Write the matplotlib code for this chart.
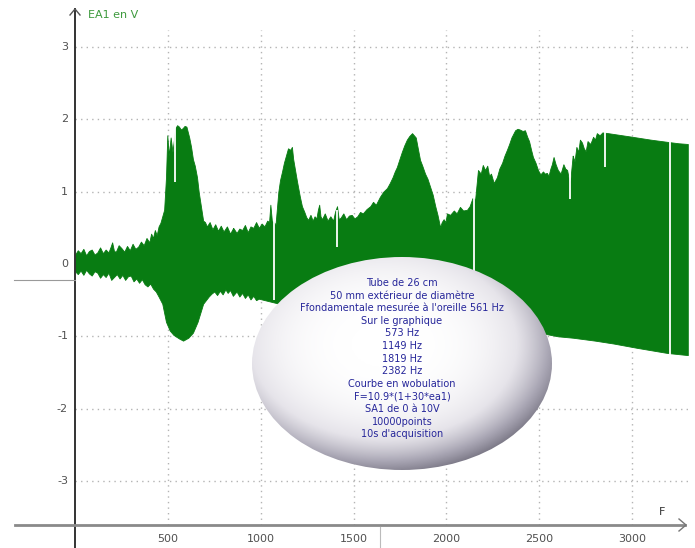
import numpy as np
import matplotlib
matplotlib.use("Agg")
import matplotlib.pyplot as plt
from matplotlib.patches import Ellipse
from matplotlib.colors import LinearSegmentedColormap

# --- measured signal envelope (F in Hz, EA1 in V) ---
upper_f = [0, 15, 30, 45, 60, 75, 90, 105, 120, 135, 150, 165, 180, 192, 200, 210,
           220, 235, 250, 265, 280, 295, 310, 325, 340, 355, 370, 385, 400, 410,
           420, 430, 440, 450, 460, 470, 480, 490, 497, 505, 515, 525, 540, 550,
           560, 570, 580, 590, 600, 615, 625, 635, 645, 657, 666, 675, 690, 700,
           710, 725, 740, 755, 770, 785, 800, 818, 835, 852, 870, 885, 900, 915,
           930, 945, 960, 975, 990, 1005, 1020, 1035, 1045, 1052, 1060, 1080, 1095,
           1104, 1115, 1125, 1136, 1147, 1160, 1168, 1175, 1185, 1195, 1211, 1222,
           1235, 1245, 1255, 1268, 1280, 1290, 1300, 1308, 1315, 1322, 1330, 1345,
           1360, 1375, 1390, 1400, 1411, 1420, 1430, 1445, 1460, 1475, 1490, 1505,
           1520, 1535, 1550, 1570, 1590, 1605, 1620, 1632, 1642, 1660, 1680, 1695,
           1710, 1722, 1733, 1747, 1760, 1773, 1787, 1800, 1815, 1825, 1835, 1846,
           1858, 1870, 1885, 1898, 1912, 1926, 1940, 1952, 1966, 1975, 1985, 1995,
           2003, 2020, 2040, 2055, 2073, 2090, 2111, 2125, 2140, 2155, 2170, 2185,
           2196, 2208, 2220, 2230, 2240, 2255, 2272, 2285, 2300, 2313, 2326, 2338,
           2350, 2360, 2370, 2383, 2395, 2410, 2423, 2435, 2445, 2456, 2466, 2480,
           2493, 2506, 2520, 2530, 2541, 2550, 2560, 2568, 2577, 2588, 2600, 2615,
           2630, 2640, 2650, 2665, 2680, 2690, 2700, 2710, 2719, 2730, 2740, 2750,
           2760, 2775, 2790, 2800, 2810, 2825, 2840, 2870, 3000, 3100, 3188, 3250,
           3300]
upper_v = [0.13, 0.19, 0.15, 0.21, 0.12, 0.18, 0.20, 0.13, 0.16, 0.23, 0.15, 0.20,
           0.16, 0.24, 0.30, 0.18, 0.17, 0.26, 0.22, 0.17, 0.25, 0.19, 0.28, 0.21,
           0.24, 0.31, 0.26, 0.36, 0.30, 0.42, 0.36, 0.47, 0.40, 0.52, 0.57, 0.66,
           0.75, 1.20, 1.78, 1.50, 1.75, 1.55, 1.88, 1.92, 1.90, 1.86, 1.88, 1.91,
           1.90, 1.75, 1.62, 1.45, 1.36, 1.20, 1.00, 0.85, 0.60, 0.58, 0.52, 0.58,
           0.48, 0.55, 0.46, 0.53, 0.45, 0.52, 0.42, 0.50, 0.43, 0.49, 0.47, 0.54,
           0.44, 0.52, 0.50, 0.58, 0.50, 0.56, 0.52, 0.60, 0.58, 0.82, 0.60, 0.55,
           1.00, 1.16, 1.28, 1.40, 1.50, 1.60, 1.58, 1.62, 1.45, 1.30, 1.15, 0.93,
           0.80, 0.72, 0.65, 0.61, 0.68, 0.60, 0.66, 0.63, 0.75, 0.82, 0.66, 0.62,
           0.70, 0.60, 0.66, 0.60, 0.72, 0.80, 0.62, 0.64, 0.70, 0.62, 0.67, 0.68,
           0.63, 0.66, 0.72, 0.70, 0.76, 0.80, 0.86, 0.82, 0.88, 0.93, 1.00, 1.05,
           1.12, 1.20, 1.28, 1.34, 1.45, 1.55, 1.64, 1.72, 1.77, 1.81, 1.78, 1.75,
           1.60, 1.44, 1.36, 1.25, 1.18, 1.07, 0.96, 0.80, 0.68, 0.51, 0.58, 0.62,
           0.58, 0.70, 0.68, 0.74, 0.70, 0.79, 0.74, 0.75, 0.80, 0.91, 0.90, 1.30,
           1.25, 1.37, 1.30, 1.36, 1.22, 1.25, 1.12, 1.20, 1.32, 1.40, 1.50, 1.58,
           1.66, 1.75, 1.80, 1.85, 1.87, 1.86, 1.84, 1.85, 1.76, 1.70, 1.58, 1.48,
           1.40, 1.30, 1.24, 1.28, 1.25, 1.26, 1.22, 1.32, 1.38, 1.48, 1.38, 1.30,
           1.25, 1.38, 1.32, 1.30, 1.10, 1.50, 1.42, 1.62, 1.55, 1.72, 1.68, 1.60,
           1.56, 1.70, 1.66, 1.76, 1.72, 1.81, 1.78, 1.82, 1.81, 1.76, 1.72, 1.69,
           1.67, 1.66]

lower_f = [0, 15, 30, 45, 60, 75, 90, 105, 120, 135, 150, 165, 180, 195, 210, 225,
           240, 255, 270, 285, 300, 315, 330, 345, 360, 375, 390, 405, 420, 435,
           450, 470, 490, 510, 530, 560, 582, 610, 635, 660, 690, 705, 720, 735,
           750, 765, 780, 795, 810, 822, 835, 850, 870, 885, 900, 915, 930, 945,
           960, 975, 990, 1100, 1500, 2000, 2500, 2600, 2682, 2800, 2900, 3027,
           3188, 3300]
lower_v = [-0.10, -0.14, -0.09, -0.15, -0.08, -0.13, -0.16, -0.10, -0.12, -0.19,
           -0.14, -0.18, -0.12, -0.22, -0.18, -0.14, -0.20, -0.15, -0.22, -0.17,
           -0.16, -0.24, -0.20, -0.26, -0.21, -0.28, -0.31, -0.27, -0.34, -0.38,
           -0.45, -0.55, -0.80, -0.92, -0.98, -1.03, -1.06, -1.02, -0.95, -0.80,
           -0.55, -0.50, -0.45, -0.41, -0.38, -0.43, -0.37, -0.42, -0.35, -0.40,
           -0.36, -0.44, -0.38, -0.45, -0.40, -0.47, -0.42, -0.49, -0.44, -0.50,
           -0.48, -0.55, -0.65, -0.80, -0.95, -1.00, -1.02, -1.06, -1.10, -1.16,
           -1.23, -1.26]

# dropouts in the acquisition (F, bottom V, top V)
gap_f = [538, 1070, 1411, 2148, 2665, 2854, 3204]
gap_lo = [1.13, -0.50, 0.24, -0.30, 0.90, 1.34, -1.30]
gap_hi = [1.95, 0.65, 0.75, 0.95, 1.50, 1.85, 1.75]

x_ticks = [500, 1000, 1500, 2000, 2500, 3000]
y_ticks = [-3, -2, -1, 0, 1, 2, 3]

notes = ["Tube de 26 cm",
         "50 mm extérieur de diamètre",
         "Ffondamentale mesurée à l'oreille 561 Hz",
         "Sur le graphique",
         "573 Hz",
         "1149 Hz",
         "1819 Hz",
         "2382 Hz",
         "Courbe en wobulation",
         "F=10.9*(1+30*ea1)",
         "SA1 de 0 à 10V",
         "10000points",
         "10s d'acquisition"]

# --- figure / pixel-aligned axes ---
W, H = 695, 548
fig = plt.figure(figsize=(W / 100, H / 100), dpi=100)
ax = fig.add_axes([0, 0, 1, 1])
ax.set_axis_off()

x0_px, sx = 75.0, 0.1857      # px of F=0, px per Hz
y0_px, sy = 264.0, 72.3       # px (from top) of V=0, px per V
xlim = (-x0_px / sx, (W - x0_px) / sx)
ylim = (-(H - y0_px) / sy, y0_px / sy)


def fx(px):
    return (px - x0_px) / sx


def fy(py):
    return (y0_px - py) / sy


grid_col = "#b4b4b4"
ax.hlines([v for v in y_ticks if v != 0], 0, fx(690), colors=grid_col,
          linestyles=(0, (1, 3)), lw=1.0, zorder=1)
ax.vlines(x_ticks, fy(525), fy(30), colors=grid_col,
          linestyles=(0, (1, 3)), lw=1.0, zorder=1)

# signal
green = "#087c12"
uf = np.array(upper_f, float)
lf = np.array(lower_f, float)
grid_f = np.union1d(uf, lf)
up = np.interp(grid_f, uf, upper_v)
lo = np.interp(grid_f, lf, lower_v)
ax.fill_between(grid_f, lo, up, color=green, lw=0.6, edgecolor=green, zorder=3)
ax.vlines(gap_f, gap_lo, gap_hi, colors="white", lw=1.3, zorder=4)

# axes lines with arrows
ax.plot([0, 0], [fy(548), fy(9)], color="#333333", lw=1.4, zorder=5)
ax.plot([fx(70), fx(75), fx(80)], [fy(15), fy(9), fy(15)], color="#555555",
        lw=1.0, zorder=5)
ax.plot([fx(15), fx(685)], [fy(525), fy(525)], color="#8a8a8a", lw=2.0, zorder=5)
ax.plot([fx(679), fx(686), fx(679)], [fy(519), fy(525), fy(531)],
        color="#777777", lw=1.0, zorder=5)
ax.plot([fx(14), fx(75)], [fy(280), fy(280)], color="#9a9a9a", lw=0.8, zorder=5)
ax.plot([fx(380), fx(380)], [fy(527), fy(548)], color="#bbbbbb", lw=0.8, zorder=5)

tick_col = "#505050"
for v in y_ticks:
    ax.text(fx(68), v, str(v), ha="right", va="center",
            fontsize=8, color=tick_col, zorder=6)
for f in x_ticks:
    ax.text(f, fy(539), str(f), ha="center", va="center", fontsize=8,
            color=tick_col, zorder=6)
ax.text(fx(88), fy(15), "EA1 en V", ha="left", va="center", fontsize=8,
        color="#3d9a3d", zorder=6)
ax.text(fx(662), fy(512), "F", ha="center", va="center", fontsize=8,
        color="#333333", zorder=6)

# shaded ellipse with notes
ecx, ecy = fx(402), fy(363.5)
ew, eh = 300 / sx, 213 / sy
ell = Ellipse((ecx, ecy), ew, eh, facecolor="none", edgecolor="none", zorder=7)
ax.add_patch(ell)
nx, ny = 400, 300
gx = np.linspace(-1, 1, nx)
gy = np.linspace(1, -1, ny)
GX, GY = np.meshgrid(gx, gy)
r = np.sqrt((GX + 0.12) ** 2 + (GY - 0.18) ** 2)
shade = 1 - np.clip(r / 1.25, 0, 1) ** 3.2
cmap = LinearSegmentedColormap.from_list(
    "shell", ["#6f6c7a", "#a9a6b4", "#e6e4ea", "#ffffff"])
im = ax.imshow(shade, cmap=cmap, vmin=0, vmax=1,
               extent=(ecx - ew / 2, ecx + ew / 2, ecy - eh / 2, ecy + eh / 2),
               aspect="auto", interpolation="bilinear", zorder=7)
im.set_clip_path(ell)

for i, line in enumerate(notes):
    ax.text(ecx, fy(283 + 12.6 * i), line, ha="center", va="center",
            fontsize=7, color="#26269a", zorder=8)

ax.set_xlim(*xlim)
ax.set_ylim(*ylim)
fig.savefig("out.png", dpi=100)
